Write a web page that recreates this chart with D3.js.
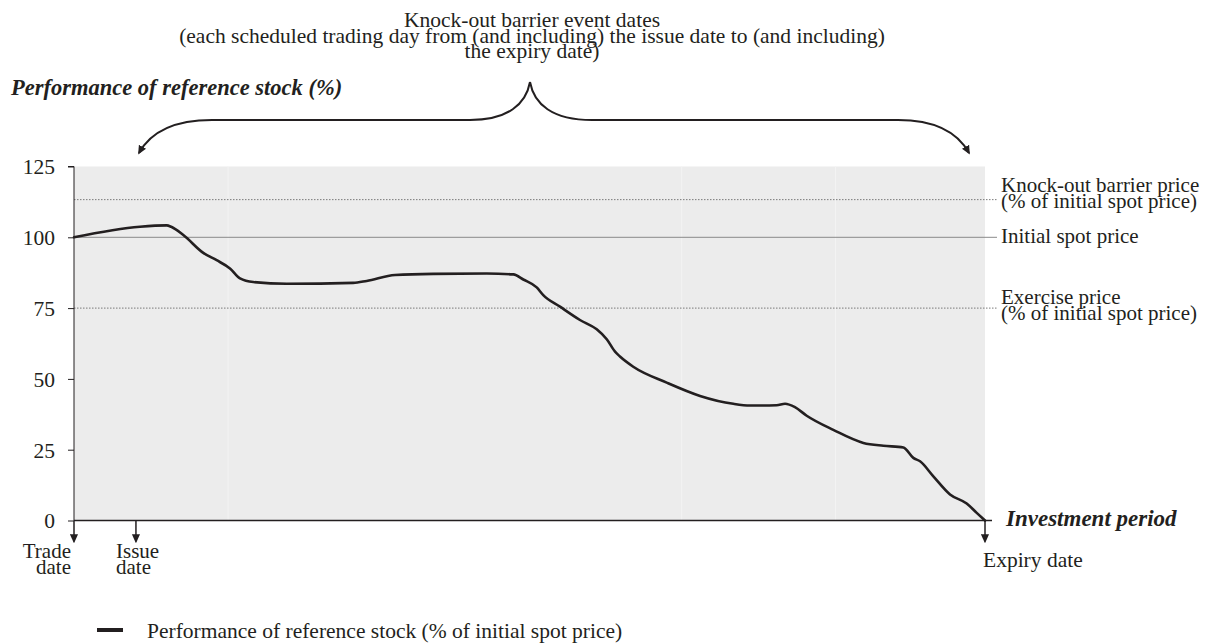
<!DOCTYPE html>
<html>
<head>
<meta charset="utf-8">
<script src="https://cdn.jsdelivr.net/npm/d3@7"></script>
<style>
  html, body { margin: 0; padding: 0; background: #fff; }
  svg { display: block; }
  text { font-family: "Liberation Serif", "Times New Roman", serif; fill: #231f20; }
  .bi { font-weight: bold; font-style: italic; }
</style>
</head>
<body>
<script>
// ---------- data ----------
const timeIdx = [0, 7.24, 10.18, 10.67, 12.0, 14.19, 15.66, 17.12, 18.22, 19.68, 23.35, 30.65, 32.13, 35.24, 39.44, 45.31, 48.23, 49.32, 50.79, 51.51, 53.35, 55.54, 57.38, 58.48, 59.39, 59.93, 61.39, 65.06, 68.72, 72.37, 74.20, 77.13, 78.05, 79.14, 80.43, 83.35, 86.65, 88.84, 91.04, 92.13, 92.87, 94.33, 96.16, 97.99, 99.09, 100];
const performance = [100, 103.7, 104.2, 103.7, 100.8, 94.5, 91.9, 89.0, 85.5, 84.2, 83.6, 83.9, 84.6, 86.7, 87.1, 87.2, 86.9, 85.1, 82.3, 79.6, 75.5, 70.8, 67.5, 64.0, 59.6, 57.9, 54.3, 48.7, 44.0, 41.2, 40.6, 40.7, 41.2, 40.0, 37.0, 32.0, 27.4, 26.4, 25.8, 22.1, 20.9, 15.6, 9.2, 6.0, 2.7, 0];

const yTicks = [0, 25, 50, 75, 100, 125];
const refLevels = [113.3, 100, 75];
const refStyles = ["dotted", "solid", "dotted"];
const refLabels = [["Knock-out barrier price", "(% of initial spot price)"], ["Initial spot price"], ["Exercise price", "(% of initial spot price)"]];

const dateNames = [["Trade", "date"], ["Issue", "date"], ["Expiry date"]];
const datePos = [0, 6.8, 100];

const bgLines = [16.9, 66.7, 83.6];

const titleLines = ["Knock-out barrier event dates", "(each scheduled trading day from (and including) the issue date to (and including)", "the expiry date)"];
const yTitle = "Performance of reference stock (%)";
const xTitle = "Investment period";
const legendLabel = "Performance of reference stock (% of initial spot price)";

// ---------- layout ----------
const W = 1206, H = 644;
const svg = d3.select("body").append("svg").attr("width", W).attr("height", H);

const x = d3.scaleLinear().domain([0, 100]).range([74, 985]);
const y = d3.scaleLinear().domain([0, 125]).range([520.5, 166.5]);

const ink = "#231f20";
const FS = 21;
const LH = 15.5;

// markers
const defs = svg.append("defs");
defs.append("marker").attr("id", "arr").attr("viewBox", "0 0 10 10")
  .attr("refX", 8).attr("refY", 5).attr("markerWidth", 9).attr("markerHeight", 9)
  .attr("markerUnits", "userSpaceOnUse").attr("orient", "auto")
  .append("path").attr("d", "M0,0.5 L10,5 L0,9.5 Z").attr("fill", ink);

// background
svg.append("rect").attr("x", x(0)).attr("y", y(125)).attr("width", x(100) - x(0)).attr("height", y(0) - y(125)).attr("fill", "#ececec");
svg.selectAll(".bgl").data(bgLines).enter().append("line")
  .attr("x1", d => x(d)).attr("x2", d => x(d)).attr("y1", y(125)).attr("y2", y(0))
  .attr("stroke", "#f3f3f3").attr("stroke-width", 1);

// reference lines
refLevels.forEach((lv, i) => {
  svg.append("line").attr("x1", x(0)).attr("x2", 997).attr("y1", y(lv)).attr("y2", y(lv))
    .attr("stroke", refStyles[i] === "solid" ? "#8a8a8a" : "#7a7a7a")
    .attr("stroke-width", 1)
    .attr("stroke-dasharray", refStyles[i] === "solid" ? null : "1.5,1.5");
});
// ref labels
const refBase = [[192, 192 + LH], [243], [304, 304 + LH]];
refLabels.forEach((lines, i) => {
  lines.forEach((t, j) => {
    svg.append("text").attr("x", 1001).attr("y", refBase[i][j]).attr("font-size", FS).text(t);
  });
});

// y axis
const yAxis = d3.axisLeft(y).tickValues(yTicks).tickSize(6).tickPadding(13);
const ga = svg.append("g").attr("transform", `translate(${x(0)},0)`).call(yAxis);
ga.attr("font-family", null).attr("font-size", null);
ga.select(".domain").attr("stroke", ink).attr("stroke-width", 1).attr("d", `M-6,${y(125)}H0V${y(0)}`);
ga.selectAll(".tick line").attr("stroke", ink);
ga.selectAll(".tick text").attr("font-size", 21.5).attr("fill", ink).attr("dy", "0.34em");

// x axis line
svg.append("line").attr("x1", x(0)).attr("x2", 992).attr("y1", y(0)).attr("y2", y(0)).attr("stroke", ink).attr("stroke-width", 1.5);

// date arrows
datePos.forEach(d => {
  svg.append("line").attr("x1", x(d)).attr("x2", x(d)).attr("y1", y(0)).attr("y2", y(0) + 21)
    .attr("stroke", ink).attr("stroke-width", 1.5).attr("marker-end", "url(#arr)");
});
// date labels
svg.append("text").attr("x", 71).attr("y", 558).attr("text-anchor", "end").attr("font-size", FS).text(dateNames[0][0]);
svg.append("text").attr("x", 71).attr("y", 558 + LH).attr("text-anchor", "end").attr("font-size", FS).text(dateNames[0][1]);
svg.append("text").attr("x", 116).attr("y", 558).attr("font-size", FS).text(dateNames[1][0]);
svg.append("text").attr("x", 116).attr("y", 558 + LH).attr("font-size", FS).text(dateNames[1][1]);
svg.append("text").attr("x", 983).attr("y", 567).attr("font-size", 21.5).text(dateNames[2][0]);

// x title
svg.append("text").attr("class", "bi").attr("x", 1006).attr("y", 526).attr("font-size", 23).text(xTitle);
// y title
svg.append("text").attr("class", "bi").attr("x", 11).attr("y", 95).attr("font-size", 22.5).text(yTitle);

// top title
titleLines.forEach((t, i) => {
  svg.append("text").attr("x", 532).attr("y", 27 + i * LH).attr("text-anchor", "middle").attr("font-size", 21.5).text(t);
});

// brace
svg.append("path").attr("d", "M530,82 C526,104 508,120 470,120 L212,120 C172,120 150,133 139,153")
  .attr("fill", "none").attr("stroke", ink).attr("stroke-width", 2).attr("marker-end", "url(#arr)");
svg.append("path").attr("d", "M530,82 C534,104 552,120 592,120 L898,120 C935,120 958,133 969,153")
  .attr("fill", "none").attr("stroke", ink).attr("stroke-width", 2).attr("marker-end", "url(#arr)");

// performance line
const pts = timeIdx.map((t, i) => [t, performance[i]]);
const line = d3.line().x(d => x(d[0])).y(d => y(d[1])).curve(d3.curveMonotoneX);
svg.append("path").datum(pts).attr("d", line).attr("fill", "none").attr("stroke", ink)
  .attr("stroke-width", 2.6).attr("stroke-linejoin", "round").attr("stroke-linecap", "round");

// legend
svg.append("line").attr("x1", 97).attr("x2", 123).attr("y1", 630).attr("y2", 630).attr("stroke", ink).attr("stroke-width", 4);
svg.append("text").attr("x", 147).attr("y", 638).attr("font-size", 21.5).text(legendLabel);
</script>
</body>
</html>
